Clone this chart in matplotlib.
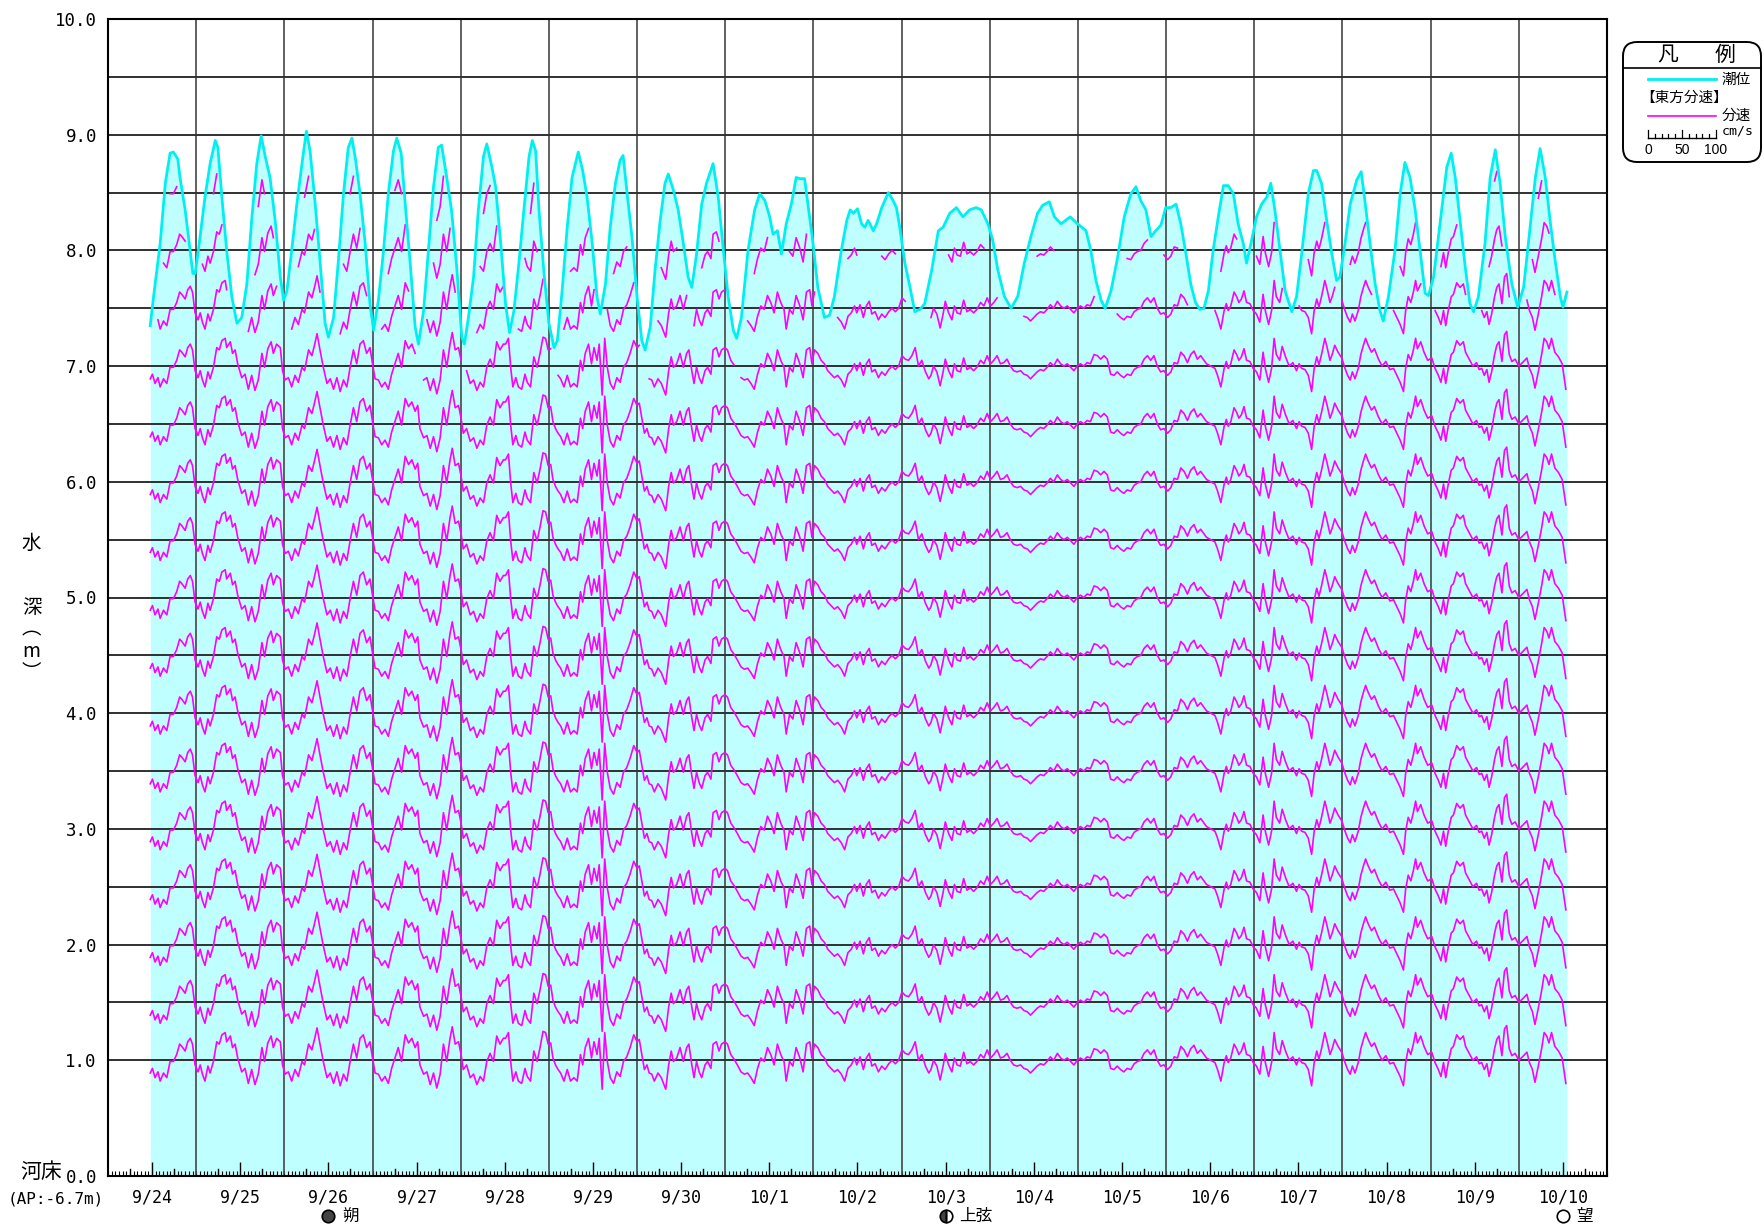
import numpy as np
import matplotlib.pyplot as plt
from matplotlib.patches import FancyBboxPatch
from matplotlib.lines import Line2D

plt.rcParams['font.family'] = ['Noto Sans CJK JP', 'DejaVu Sans']

# ---- data (hours from 9/24 00:00) ----
DAY_LABELS = ["9/24", "9/25", "9/26", "9/27", "9/28", "9/29", "9/30", "10/1", "10/2",
              "10/3", "10/4", "10/5", "10/6", "10/7", "10/8", "10/9", "10/10"]

# tide level (water depth above river bed, m)
TIDE_H = [11.5, 12.4, 14.2, 15.6, 16.9, 17.8, 19.0, 19.6, 21.0, 21.9, 23.1, 23.7, 24.6, 26.4, 27.8,
          29.2, 29.9, 31.0, 32.3, 33.7, 35.1, 36.4, 37.8, 39.1, 40.5, 41.7, 42.8, 44.1, 45.5, 46.9,
          47.8, 48.7, 50.0, 51.4, 52.8, 54.0, 55.0, 56.4, 57.7, 59.1, 60.0, 61.4, 62.7, 64.1, 65.4,
          66.4, 67.4, 68.6, 70.0, 71.3, 72.3, 73.6, 75.0, 76.3, 77.7, 78.6, 79.8, 80.9, 82.2, 83.6,
          84.5, 85.9, 87.2, 88.6, 89.9, 90.8, 92.2, 93.5, 94.9, 96.3, 97.0, 98.1, 99.5, 100.8, 102.2,
          103.1, 104.5, 105.5, 106.9, 108.2, 109.3, 110.5, 111.9, 113.2, 114.6, 115.5, 116.4, 117.3,
          118.6, 120.0, 121.4, 122.3, 123.6, 125.0, 126.3, 128.0, 129.2, 130.4, 131.8, 133.1, 134.0,
          135.4, 136.7, 138.1, 139.4, 140.2, 141.2, 142.6, 144.0, 145.3, 146.2, 147.6, 148.9, 150.3,
          151.6, 152.5, 153.9, 155.2, 156.6, 157.9, 158.9, 160.2, 161.6, 162.9, 164.7, 166.1, 167.5,
          168.8, 170.2, 171.1, 172.4, 174.2, 176.0, 177.4, 178.8, 180.1, 181.0, 182.2, 183.3, 184.6,
          186.0, 187.3, 188.3, 189.6, 190.5, 191.9, 193.2, 195.0, 196.4, 197.7, 199.6, 201.1, 202.0,
          202.9, 204.0, 205.1, 206.0, 206.9, 208.3, 209.2, 210.6, 212.4, 213.7, 214.6, 215.5, 216.9,
          218.3, 219.6, 221.0, 222.3, 224.2, 226.0, 227.3, 229.1, 230.9, 232.7, 234.5, 236.3, 237.7,
          239.5, 240.8, 242.2, 244.0, 245.8, 247.6, 249.4, 251.2, 253.0, 254.4, 256.2, 257.6, 259.4,
          261.9, 263.9, 266.2, 267.5, 268.9, 270.3, 271.4, 273.0, 274.8, 276.6, 278.4, 279.8, 281.1,
          282.5, 283.9, 285.2, 286.6, 287.9, 289.3, 290.7, 292.0, 293.4, 294.7, 296.0, 297.2, 298.3,
          299.5, 300.8, 302.2, 303.6, 304.9, 306.3, 307.6, 309.0, 309.9, 311.3, 312.6, 314.0, 315.4,
          316.5, 317.6, 319.0, 320.4, 322.2, 323.5, 324.9, 326.7, 328.1, 329.0, 330.3, 331.7, 333.1,
          334.4, 335.3, 336.7, 338.1, 339.9, 341.1, 342.1, 343.5, 344.9, 346.2, 347.1, 348.5, 350.3,
          351.7, 353.0, 354.4, 355.8, 357.1, 358.5, 359.4, 360.8, 363.0, 364.4, 365.6, 366.7, 368.0,
          369.4, 370.7, 371.7, 373.0, 374.8, 376.2, 377.6, 378.9, 380.3, 382.1, 383.7, 385.3, 386.6,
          388.5, 389.8, 391.2, 392.5, 393.9, 395.3, 396.0, 397.1]
TIDE_V = [7.35, 7.60, 8.06, 8.58, 8.84, 8.85, 8.79, 8.63, 8.35, 8.12, 7.80, 7.80, 8.00, 8.46, 8.75,
          8.95, 8.89, 8.46, 8.00, 7.60, 7.37, 7.42, 7.71, 8.26, 8.75, 8.99, 8.81, 8.63, 8.26, 7.77,
          7.57, 7.65, 8.00, 8.40, 8.75, 9.03, 8.86, 8.40, 7.91, 7.37, 7.25, 7.42, 7.91, 8.49, 8.89,
          8.97, 8.78, 8.49, 8.06, 7.54, 7.31, 7.57, 8.00, 8.49, 8.86, 8.97, 8.84, 8.40, 7.91, 7.34,
          7.19, 7.48, 8.00, 8.55, 8.89, 8.91, 8.63, 8.35, 7.86, 7.25, 7.19, 7.42, 7.77, 8.35, 8.81,
          8.92, 8.72, 8.55, 8.06, 7.54, 7.29, 7.48, 7.91, 8.35, 8.81, 8.95, 8.86, 8.35,
          7.83, 7.37, 7.16, 7.22, 7.65, 8.20, 8.63, 8.85, 8.69, 8.46, 8.06, 7.60, 7.45,
          7.71, 8.20, 8.58, 8.78, 8.82, 8.52, 8.12, 7.60, 7.22, 7.14, 7.34, 7.83, 8.26,
          8.58, 8.66, 8.52, 8.35, 8.06, 7.77, 7.68, 7.97, 8.40, 8.58, 8.75, 8.46, 8.00,
          7.60, 7.31, 7.24, 7.42, 8.00, 8.35, 8.49, 8.43, 8.29, 8.14, 8.17, 7.97, 8.23,
          8.40, 8.63, 8.62, 8.62, 8.40, 8.06, 7.68, 7.42, 7.44, 7.60, 8.00, 8.26, 8.35,
          8.32, 8.36, 8.23, 8.20, 8.26, 8.17, 8.23, 8.37, 8.50, 8.43, 8.37, 8.20, 7.89,
          7.68, 7.47, 7.49, 7.54, 7.83, 8.17, 8.20, 8.32, 8.37, 8.29, 8.35, 8.37, 8.35,
          8.23, 8.09, 7.83, 7.60, 7.50, 7.60, 7.89, 8.12, 8.32, 8.39, 8.42, 8.29, 8.23,
          8.29, 8.23, 8.17, 8.00, 7.74, 7.57, 7.50, 7.65, 7.94, 8.29, 8.49, 8.55, 8.43,
          8.35, 8.12, 8.17, 8.22, 8.37, 8.37, 8.40, 8.23, 7.97, 7.71, 7.55, 7.49, 7.50,
          7.65, 8.00, 8.29, 8.56, 8.56, 8.49, 8.23, 8.06, 7.89, 8.09, 8.29, 8.40, 8.46,
          8.58, 8.35, 8.00, 7.65, 7.47, 7.60, 7.97, 8.49, 8.69, 8.69, 8.58, 8.26, 7.97,
          7.74, 7.77, 8.06, 8.40, 8.61, 8.68, 8.43, 8.06, 7.71, 7.48, 7.39, 7.60, 8.00,
          8.49, 8.76, 8.63, 8.35, 8.00, 7.63, 7.61, 7.77, 8.35, 8.72, 8.84, 8.63, 8.26,
          7.86, 7.54, 7.47, 7.60, 8.06, 8.63, 8.87, 8.58, 8.12, 7.71, 7.51, 7.68, 8.06,
          8.63, 8.88, 8.63, 8.26, 7.91, 7.60, 7.51, 7.64]

# eastward velocity, drawn as deflection (m) around each measuring depth
VEL_H = [11.5, 12.1, 12.8, 13.6, 14.2, 15.1, 16.0, 16.9, 17.8, 18.7, 19.5, 20.1, 21.0, 21.7, 22.4,
         23.0, 23.7, 24.5, 25.1, 25.7, 26.4, 27.2, 27.8, 28.7, 29.6, 30.3, 31.0, 31.9, 32.3, 33.3,
         33.9, 34.6, 35.3, 36.4, 37.3, 38.2, 39.1, 40.0, 40.9, 41.9, 42.6, 43.5, 44.4, 45.0, 45.9,
         46.9, 47.5, 48.2, 49.1, 50.0, 50.9, 51.8, 52.8, 53.5, 54.6, 55.5, 56.2, 56.9, 57.7, 58.6,
         59.6, 60.5, 61.4, 62.3, 63.2, 64.1, 65.0, 65.9, 66.8, 67.7, 68.6, 69.5, 70.4, 71.3, 72.0,
         72.7, 73.6, 74.5, 75.4, 76.3, 77.2, 78.1, 79.0, 79.9, 80.9, 81.8, 82.7, 83.6, 84.3, 84.9,
         85.9, 86.8, 87.7, 88.6, 89.5, 90.4, 91.3, 92.2, 93.1, 93.7, 94.5, 95.4, 96.1, 96.7, 97.6,
         98.6, 99.5, 100.4, 101.3, 102.2, 103.1, 104.0, 104.9, 105.8, 106.7, 107.6,
         108.2, 109.0, 109.6, 110.2, 111.0, 111.7, 112.6, 113.5, 114.1, 115.0, 115.9, 116.8, 117.6,
         118.4, 119.1, 119.8, 120.5, 121.1, 121.8, 122.5, 123.2, 124.1, 125.0, 125.9, 126.8, 127.7,
         128.6, 129.2, 129.9, 130.8, 131.6, 132.3, 133.1, 133.7, 134.5, 135.2, 135.9, 136.7, 137.6,
         138.5, 139.4, 140.3, 141.2, 142.1, 143.1, 144.0, 144.6, 145.3, 146.0, 146.7, 147.3, 148.0,
         148.7, 149.7, 150.6, 151.2, 151.8, 152.6, 153.3, 153.9, 154.8, 155.7, 156.6, 157.5, 158.1,
         158.9, 159.5, 160.2, 160.9, 161.6, 162.5, 163.2, 164.1, 164.7, 165.6, 166.3, 167.0, 167.9,
         168.6, 169.5, 170.4, 171.3, 172.3, 173.2, 174.1, 175.0, 175.9, 176.8, 177.7, 178.6, 179.5,
         180.4, 181.3, 182.2, 183.1, 184.0, 184.6, 185.5, 186.4, 187.3, 188.3, 189.2, 190.1, 191.0,
         191.6, 192.3, 193.2, 194.1, 195.0, 195.9, 196.8, 197.7, 198.6, 199.6, 200.5, 201.4, 202.3,
         203.2, 203.8, 204.7, 205.6, 206.4, 207.2, 207.9, 208.8, 209.7, 210.6, 211.5, 212.5, 213.4,
         214.3, 215.2, 216.1, 217.0, 217.9, 218.8, 219.7, 220.6, 221.5, 222.5, 223.4, 224.0, 224.7,
         225.6, 226.5, 227.3, 227.9, 228.8, 229.7, 230.4, 231.1, 232.0, 232.9, 233.8, 234.7, 235.6,
         236.5, 237.5, 238.4, 239.3, 240.2, 241.1, 242.0, 242.9, 243.8, 244.7, 245.6, 246.5, 247.4,
         248.4, 249.3, 250.2, 251.1, 252.0, 252.9, 253.8, 254.7, 255.6, 256.5, 257.4, 258.4, 259.3,
         260.2, 261.1, 262.0, 262.9, 263.8, 264.7, 265.6, 266.5, 267.4, 268.4, 269.3, 270.2, 271.1,
         272.0, 272.9, 273.8, 274.7, 275.6, 276.5, 277.4, 278.4, 279.3, 280.2, 281.1, 282.0, 282.9,
         283.8, 284.7, 285.6, 286.5, 287.4, 288.4, 289.3, 290.2, 291.1, 292.0, 292.9, 293.8, 294.7,
         295.6, 296.5, 297.4, 299.0, 301.3, 302.0, 302.9, 303.8, 304.4, 304.9, 305.6, 306.5, 307.2,
         307.8, 308.5, 309.2, 309.9, 310.8, 311.7, 312.6, 313.5, 314.4, 315.0, 315.9, 316.7, 317.4,
         318.0, 318.9, 319.6, 320.5, 321.5, 322.5, 323.5, 324.2, 324.9, 325.8, 326.7, 327.6, 328.3,
         329.0, 329.6, 330.3, 331.2, 331.9, 332.6, 333.2, 333.9, 334.8, 335.8, 336.7, 337.4, 338.1,
         338.7, 339.4, 340.3, 341.0, 341.7, 342.3, 343.0, 343.9, 344.7, 345.8, 346.8, 347.8, 348.9,
         349.9, 350.8, 351.7, 352.6, 353.2, 353.9, 354.6, 355.3, 355.9, 356.4, 357.3, 358.2, 359.2,
         360.3, 361.2, 362.1, 362.8, 363.5, 364.1, 364.8, 365.6, 366.2, 367.1, 368.0, 368.9, 369.5,
         370.5, 371.5, 372.5, 373.2, 373.9, 374.6, 375.3, 375.9, 376.6, 377.4, 378.0, 378.6, 379.4,
         380.1, 380.7, 381.4, 382.1, 383.0, 384.0, 385.0, 386.2, 386.9, 387.7, 388.4, 389.3, 390.2,
         390.9, 391.6, 392.2, 392.9, 393.8, 394.8, 395.8, 396.8]
VEL_V = [-0.11, -0.07, -0.15, -0.10, -0.18, -0.11, -0.15, -0.01, -0.01, 0.05, 0.14, 0.12, 0.08, 0.16,
         0.19, 0.14, -0.04, -0.10, -0.04, -0.12, -0.18, -0.05, -0.11, -0.01, 0.16, 0.14, 0.22, 0.24,
         0.16, 0.21, 0.11, 0.14, 0.02, -0.10, -0.07, -0.20, -0.08, -0.21, -0.12, 0.11, -0.01, 0.15,
         0.21, 0.11, 0.19, 0.16, -0.04, -0.12, -0.10, -0.18, -0.08, -0.14, -0.01, -0.04, 0.14, 0.09,
         0.18, 0.28, 0.14, -0.01, -0.15, -0.11, -0.20, -0.10, -0.22, -0.12, -0.18, -0.01, 0.14, 0.02,
         0.19, 0.22, 0.11, 0.16, 0.02, -0.11, -0.12, -0.18, -0.14, -0.20, -0.07, 0.02, 0.11, -0.01,
         0.22, 0.15, 0.19, 0.11, 0.16, -0.04, -0.12, -0.10, -0.21, -0.11, -0.24, -0.12, 0.14, -0.01,
         0.19, 0.29, 0.14, 0.16, 0.05, -0.08, -0.04, -0.15, -0.12, -0.21, -0.14, -0.18, -0.01, 0.06,
         -0.01, 0.21, 0.14, 0.19,
         0.19, 0.24, -0.01, -0.18, -0.10, -0.18, -0.20, -0.07, -0.14, -0.18, 0.08, -0.01, 0.11,
         0.25, 0.24, 0.14, 0.15, 0.02, -0.04, -0.08, -0.11, -0.18, -0.08, -0.18, -0.15, -0.18,
         0.05, -0.04, 0.11, 0.19, 0.02, 0.16, 0.05, 0.19, -0.25, 0.24, -0.01, -0.15, -0.20,
         -0.10, -0.14, -0.01, 0.03, 0.11, 0.22, 0.16, 0.18, 0.05, -0.08, -0.04, -0.11, -0.12,
         -0.18, -0.11, -0.15, -0.20, -0.25, -0.04, 0.08, -0.01, 0.02, 0.11, -0.01, 0.11, 0.14,
         -0.04, -0.15, -0.01, -0.10, -0.15, -0.04, -0.01, -0.07, 0.14, 0.16, 0.08, 0.14, 0.16,
         0.14, 0.05, 0.01, -0.04, -0.10, -0.12, -0.11, -0.15, -0.20, -0.07, 0.02, -0.01, 0.11,
         0.05, -0.04, 0.14, 0.05, -0.01, -0.18, -0.01, -0.05, 0.11, 0.02, -0.10, 0.14, 0.16,
         0.02, 0.14, 0.11, 0.05, 0.02, -0.04, -0.07, -0.10, -0.08, -0.12, -0.18, -0.07, -0.04,
         0.02, -0.04, 0.03, -0.08, 0.02, 0.06, -0.05, -0.03, -0.10, -0.05, -0.08, -0.03, 0.00,
         -0.03, 0.00, 0.09, 0.06, 0.05, 0.09, 0.16, 0.00, 0.05, -0.05, -0.11, -0.08, 0.00,
         -0.05, -0.17, -0.05, 0.06, -0.04, -0.10, 0.02, -0.04, -0.05, 0.07, -0.03, -0.01, -0.04,
         -0.01, 0.05, 0.02, 0.09, 0.02, 0.05, 0.09, 0.02, 0.03, 0.06, 0.00, -0.04, -0.05,
         -0.04, -0.07, -0.08, -0.11, -0.08, -0.05, -0.03, -0.04, -0.01, 0.03, 0.00, 0.06, 0.02,
         0.00, 0.02, -0.01, -0.04, 0.00, 0.02, 0.00, 0.03, 0.02, 0.10, 0.09, 0.06, 0.09,
         0.06, -0.07, -0.08, -0.05, -0.08, -0.10, -0.07, -0.08, -0.03, -0.01, 0.00, 0.06, 0.09,
         0.05, 0.09, 0.00, -0.05, -0.04, -0.08, -0.05, 0.03, 0.02, 0.12, 0.09, 0.03, 0.10,
         0.13, 0.06, 0.09, 0.02, -0.02, -0.08, -0.18, -0.02, 0.04, -0.02, 0.02, 0.14, 0.10,
         0.05, 0.08, 0.15, 0.05, 0.04, -0.02, -0.05, -0.12, 0.12, -0.02, -0.14, -0.02, 0.24,
         0.10, 0.05, 0.17, 0.08, 0.00, 0.03, -0.04, 0.02, -0.02, -0.03, -0.08, -0.22, -0.02,
         0.08, 0.01, 0.10, 0.24, 0.15, 0.05, 0.10, 0.18, 0.12, 0.07, -0.02, -0.08, -0.12,
         -0.05, -0.11, -0.02, 0.10, 0.18, 0.24, 0.18, 0.12, 0.15, 0.06, 0.00, 0.04, -0.03,
         -0.02, -0.08, -0.14, -0.22, -0.02, 0.10, 0.05, 0.14, 0.24, 0.15, 0.21, 0.12, 0.05,
         0.07, -0.02, -0.08, -0.14, -0.02, -0.15, -0.02, 0.10, 0.12, 0.22, 0.18, 0.21, 0.12,
         0.06, 0.00, 0.03, -0.03, -0.02, -0.08, -0.03, -0.14, -0.05, 0.10, 0.18, 0.21, 0.04,
         0.27, 0.30, 0.10, 0.04, 0.06, 0.00, 0.03, 0.07, -0.02, -0.08, -0.19, -0.05, 0.10,
         0.24, 0.21, 0.15, 0.24, 0.12, 0.08, 0.02, -0.20]

DEPTHS = [1.0, 1.5, 2.0, 2.5, 3.0, 3.5, 4.0, 4.5, 5.0, 5.5, 6.0, 6.5, 7.0, 7.5, 8.0, 8.5]
MOON = [(60, "full", "朔"), (228, "left", "上弦"), (396, "none", "望")]

W, H = 1764, 1229
MONO = ['DejaVu Sans Mono']
fig = plt.figure(figsize=(W / 100, H / 100), dpi=100)
ax = fig.add_axes([108 / W, 1 - 1176 / H, 1499 / W, 1157 / H])
ax.set_xlim(0, 408)
ax.set_ylim(0, 10)

tide_h = np.array(TIDE_H)
tide_v = np.array(TIDE_V)
vel_h = np.array(VEL_H)
vel_v = np.array(VEL_V)

ax.fill_between(tide_h, 0, tide_v, color='#c0ffff', lw=0, zorder=1)

for h in range(24, 408, 24):
    ax.axvline(h, color='#454545', lw=1.2, zorder=2)
for y in np.arange(1.0, 10, 0.5):
    ax.axhline(y, color='#303030', lw=1.4, zorder=2)

# velocity traces, only where the bin is under water
tide_at = np.interp(vel_h, tide_h, tide_v)
for d in DEPTHS:
    yy = np.where(tide_at > d + 0.28, d + vel_v, np.nan)
    ax.plot(vel_h, yy, color='#ff00ff', lw=1.2, zorder=3)

ax.plot(tide_h, tide_v, color='#00f0f0', lw=2.0, zorder=4)

for s in ax.spines.values():
    s.set_linewidth(1.5)
    s.set_zorder(5)

# x ticks
ax.set_xticks([12 + 24 * i for i in range(17)])
ax.set_xticklabels(DAY_LABELS, family=MONO, fontsize=12)
ax.set_xticks(range(0, 409), minor=True)
ax.tick_params(axis='x', which='major', direction='in', length=10, width=1, pad=9)
ax.tick_params(axis='x', which='minor', direction='in', length=3.5, width=0.8)
trans = ax.get_xaxis_transform()
for h in range(6, 408, 12):
    ax.plot([h, h], [0, 7 / 1157], color='black', lw=1, transform=trans, zorder=5)

# y ticks
ax.set_yticks(range(0, 11))
ax.set_yticklabels([f"{v:.1f}" for v in range(0, 11)], family=MONO, fontsize=12.5)
ax.tick_params(axis='y', length=0, pad=8)

# axis captions
ytr = ax.get_yaxis_transform()
for ch, yv in zip(["水", "深", "︵", "m", "︶"], [5.47, 4.91, 4.73, 4.53, 4.35]):
    ax.text(-0.051, yv, ch, ha='center', va='center', fontsize=14, transform=ytr)
fig.text(62 / W, 1 - 1172 / H, "河床", ha='right', va='center', fontsize=15)
fig.text(56 / W, 1 - 1199 / H, "(AP:-6.7m)", ha='center', va='center', fontsize=11.5,
         family=MONO)

# moon phases
for h, fill, name in MOON:
    ax.plot([h], [-0.0346], marker='o', ms=9, mfc='#444444', mec='black', mew=1.2,
            fillstyle=fill, transform=trans, clip_on=False)
    ax.annotate(name, (h, -0.0346), xycoords=trans, xytext=(10, 0), textcoords='offset points',
                ha='left', va='center', fontsize=12)

# legend box
def fx(x):
    return x / W


def fy(y):
    return 1 - y / H


box = FancyBboxPatch((fx(1623), fy(162)), fx(1761) - fx(1623), fy(42) - fy(162),
                     boxstyle="round,pad=0,rounding_size=0.008", transform=fig.transFigure,
                     fc='white', ec='black', lw=1.4, mutation_aspect=W / H)
fig.patches.append(box)
fig.text(fx(1668), fy(55), "凡", ha='center', va='center', fontsize=15)
fig.text(fx(1725), fy(55), "例", ha='center', va='center', fontsize=15)
fig.add_artist(Line2D([fx(1623), fx(1761)], [fy(68), fy(68)], color='black', lw=1.2,
                      transform=fig.transFigure))
fig.add_artist(Line2D([fx(1648), fx(1716)], [fy(79), fy(79)], color='#00f0f0', lw=2,
                      transform=fig.transFigure))
fig.text(fx(1722), fy(80), "潮位", ha='left', va='center', fontsize=10.5)
fig.text(fx(1640), fy(98), "【東方分速】", ha='left', va='center', fontsize=10.5)
fig.add_artist(Line2D([fx(1648), fx(1716)], [fy(116), fy(116)], color='#ff00ff', lw=1.2,
                      transform=fig.transFigure))
fig.text(fx(1722), fy(116), "分速", ha='left', va='center', fontsize=10.5)
fig.add_artist(Line2D([fx(1648), fx(1716)], [fy(138), fy(138)], color='black', lw=1,
                      transform=fig.transFigure))
for i in range(11):
    x = 1648 + i * 6.8
    top = 130 if i in (0, 5, 10) else 134
    fig.add_artist(Line2D([fx(x), fx(x)], [fy(138), fy(top)], color='black', lw=0.9,
                          transform=fig.transFigure))
fig.text(fx(1722), fy(131), "cm/s", ha='left', va='center', fontsize=9.5, family=MONO)
for x, s in [(1648, "0"), (1682, "50"), (1716, "100")]:
    fig.text(fx(x), fy(150), s, ha='center', va='center', fontsize=10, family='Liberation Sans')

fig.savefig("out.png", dpi=100)
